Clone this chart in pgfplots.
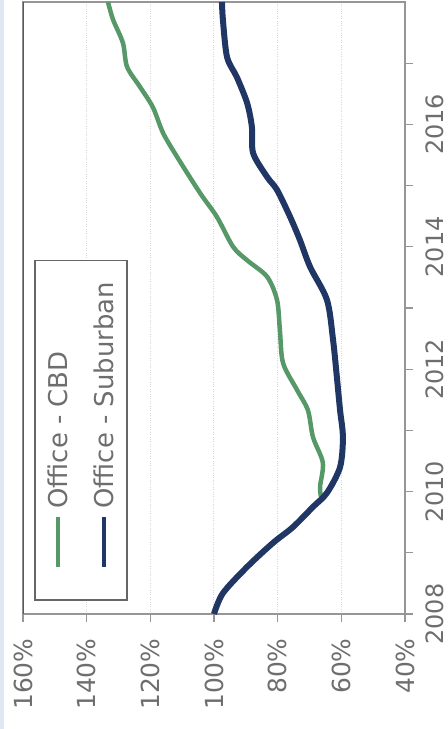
\documentclass[border=0pt]{standalone}
\usepackage{pgfplots}
\pgfplotsset{compat=1.18}
\usepackage{pgfplotstable}
\usepackage{fontspec}
\setmainfont{DejaVu Sans}

\definecolor{cbd}{RGB}{86,152,104}
\definecolor{suburb}{RGB}{32,54,100}
\definecolor{tickgray}{RGB}{110,110,110}
\definecolor{framegray}{RGB}{150,150,150}
\definecolor{gridgray}{RGB}{215,215,215}
\definecolor{edgeblue}{RGB}{222,232,242}

% Office values indexed to 100% at the start of 2008
\pgfplotstableread{
year     pct
2008.00  100.0
2008.34  97.2
2008.77  89.6
2009.16  81.5
2009.42  75.2
2009.75  68.9
2009.98  64.5
2010.40  60.4
2010.89  59.5
2011.33  60.4
2011.87  61.4
2012.48  62.6
2013.13  64.5
2013.67  69.8
2014.11  73.0
2014.49  76.1
2014.93  80.2
2015.14  83.3
2015.53  87.7
2015.96  88.1
2016.35  89.6
2016.77  92.8
2017.10  95.9
2017.71  97.2
2018.00  97.5
}\suburban

\pgfplotstableread{
year     pct
2009.92  66.4
2010.08  66.7
2010.47  65.8
2010.89  68.9
2011.33  70.5
2011.66  73.9
2012.10  78.3
2012.64  79.3
2013.13  80.2
2013.51  83.3
2013.78  89.6
2014.00  94.0
2014.49  99.1
2014.88  104.4
2015.47  111.6
2015.86  116.0
2016.28  119.2
2016.61  123.2
2016.94  127.3
2017.33  128.6
2017.71  131.7
2018.00  133.3
}\cbdtab

\begin{document}
\begin{tikzpicture}
\begin{axis}[
  name=ax,
  width=382bp, height=612bp, scale only axis,
  xmin=40, xmax=160, x dir=reverse,
  ymin=2008, ymax=2018,
  xtick={40,60,...,160},
  xticklabels={40\%,60\%,80\%,100\%,120\%,140\%,160\%},
  ytick={2008,...,2017},
  yticklabels={2008,,2010,,2012,,2014,,2016,},
  xtick pos=left, ytick pos=right, yticklabel pos=right,
  tick align=outside, major tick length=8bp,
  tick style={framegray, line width=1.2bp},
  axis line style={framegray, line width=1.4bp},
  xmajorgrids, major x grid style={gridgray, dotted, line width=1bp},
  xticklabel style={yshift=-13bp, rotate=90, anchor=east, font=\fontsize{25}{30}\selectfont, text=tickgray},
  yticklabel style={xshift=9bp, rotate=90, anchor=north, text depth=0pt, font=\fontsize{24}{28}\selectfont, text=tickgray},
  clip=true,
]
\addplot[cbd, line width=4.5bp, smooth] table[x=pct, y=year] {\cbdtab};
\addplot[suburb, line width=6bp, smooth] table[x=pct, y=year] {\suburban};

% darker left edge of the plot frame
\draw[black!65, line width=2bp] (axis description cs:0,0) -- (axis description cs:0,1);

% legend, turned with the chart
\draw[black!60, line width=1.5bp, fill=white]
  (axis description cs:0.0314,0.0229) rectangle (axis description cs:0.272,0.578);
\draw[cbd, line width=4.5bp] (axis description cs:0.0916,0.0768) -- (axis description cs:0.0916,0.1585);
\draw[suburb, line width=4.5bp] (axis description cs:0.212,0.0768) -- (axis description cs:0.212,0.1585);
\node[rotate=90, anchor=west, inner sep=0pt, text=tickgray, font=\fontsize{26}{30}\selectfont]
  at (axis description cs:0.0916,0.172) {Office - CBD};
\node[rotate=90, anchor=west, inner sep=0pt, text=tickgray, font=\fontsize{26}{30}\selectfont]
  at (axis description cs:0.212,0.172) {Office - Suburban};
\end{axis}
\fill[edgeblue] ([shift={(-23bp,-115bp)}]ax.south west) rectangle ([shift={(-19bp,2bp)}]ax.north west);
\pgfresetboundingbox
\path ([shift={(-23bp,-115bp)}]ax.south west) rectangle ([shift={(43bp,2bp)}]ax.north east);
\end{tikzpicture}
\end{document}
